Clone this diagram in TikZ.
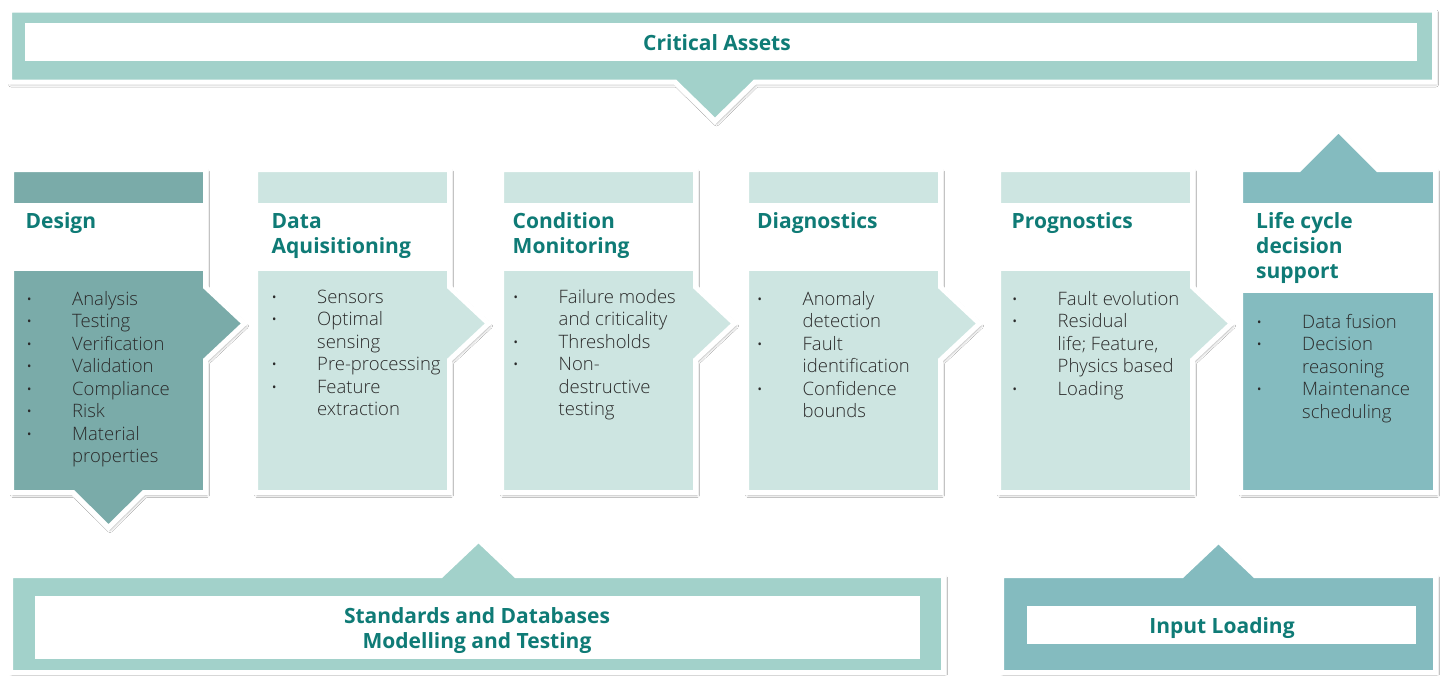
\documentclass[tikz,border=0pt]{standalone}
\usepackage{fontspec}
\setmainfont{Open Sans}
\newfontfamily\lightfont{Open Sans Light}
\usetikzlibrary{shadows.blur}

\definecolor{bannerteal}{HTML}{A2D1CA}
\definecolor{darkteal}{HTML}{7AABA9}
\definecolor{paleteal}{HTML}{CDE5E1}
\definecolor{midteal}{HTML}{84BBBF}
\definecolor{headteal}{HTML}{0F7B76}
\definecolor{bodygray}{HTML}{2A2A2A}

% bullet hanging 43pt to the left of the item text
\newcommand\bul{\llap{\makebox[0pt][c]{\raisebox{2pt}{\normalfont\fontsize{11.5}{11.5}\selectfont •}}\hspace{43pt}}}

\tikzset{
  panel/.style={draw=white, line width=5pt, line join=miter,
    blur shadow={shadow xshift=1.5pt, shadow yshift=-2.5pt,
                 shadow blur radius=2.5pt, shadow opacity=35}},
  headtext/.style={font=\bfseries\fontsize{21}{25}\selectfont, text=headteal, inner sep=0pt},
  bodytext/.style={font=\lightfont\fontsize{18.5}{22.5}\selectfont, text=bodygray, inner sep=0pt},
}

\begin{document}
\begin{tikzpicture}[x=1pt, y=-1pt]
\useasboundingbox (0,0) rectangle (1446,675);
\fill[white] (0,0) rectangle (1446,675);

% ---------- top banner ----------
\path[panel, fill=bannerteal] (9.5,10) -- (1434.5,10) -- (1434.5,82) -- (755,82)
  -- (715,121) -- (675,82) -- (9.5,82) -- cycle;
\fill[white] (25,23) rectangle (1417,61);
\node[headtext, anchor=base] (crit) at (717,50) {Critical Assets};

% ---------- Design ----------
\path[panel, fill=darkteal] (11.5,169.5) -- (205.5,169.5) -- (205.5,287) -- (244.5,323.5)
  -- (205.5,360) -- (205.5,492.5) -- (144,492.5) -- (108.5,527.5) -- (73,492.5)
  -- (11.5,492.5) -- cycle;
\fill[white] (11.5,203) rectangle (205.5,271);
\node[headtext, anchor=base west] (t1) at (25.5,228) {Design};
\node[bodytext, anchor=base west] (b1) at (72,305) {\vtop{
  \hbox{\bul Analysis}\hbox{\bul Testing}\hbox{\bul Verification}
  \hbox{\bul Validation}\hbox{\bul Compliance}\hbox{\bul Risk}
  \hbox{\bul Material}\hbox{properties}}};

% ---------- Data Aquisitioning ----------
\path[panel, fill=paleteal] (255.5,169.5) -- (449.5,169.5) -- (449.5,287) -- (488.5,323.5)
  -- (449.5,360) -- (449.5,492.5) -- (255.5,492.5) -- cycle;
\fill[white] (255.5,203) rectangle (449.5,271);
\node[headtext, anchor=base west] (t2) at (271.5,228) {\vtop{\hbox{Data}\hbox{Aquisitioning}}};
\node[bodytext, anchor=base west] (b2) at (317,303) {\vtop{
  \hbox{\bul Sensors}\hbox{\bul Optimal}\hbox{sensing}
  \hbox{\bul Pre-processing}\hbox{\bul Feature}\hbox{extraction}}};

% ---------- Condition Monitoring ----------
\path[panel, fill=paleteal] (501.5,169.5) -- (695.5,169.5) -- (695.5,287) -- (734.5,323.5)
  -- (695.5,360) -- (695.5,492.5) -- (501.5,492.5) -- cycle;
\fill[white] (501.5,203) rectangle (695.5,271);
\node[headtext, anchor=base west] (t3) at (512.5,228) {\vtop{\hbox{Condition}\hbox{Monitoring}}};
\node[bodytext, anchor=base west] (b3) at (558.5,303) {\vtop{
  \hbox{\bul Failure modes}\hbox{and criticality}\hbox{\bul Thresholds}
  \hbox{\bul Non-}\hbox{destructive}\hbox{testing}}};

% ---------- Diagnostics ----------
\path[panel, fill=paleteal] (746.5,169.5) -- (940.5,169.5) -- (940.5,287) -- (979.5,323.5)
  -- (940.5,360) -- (940.5,492.5) -- (746.5,492.5) -- cycle;
\fill[white] (746.5,203) rectangle (940.5,271);
\node[headtext, anchor=base west] (t4) at (757,228) {Diagnostics};
\node[bodytext, anchor=base west] (b4) at (802.5,305) {\vtop{
  \hbox{\bul Anomaly}\hbox{detection}\hbox{\bul Fault}
  \hbox{identification}\hbox{\bul Confidence}\hbox{bounds}}};

% ---------- Prognostics ----------
\path[panel, fill=paleteal] (998.5,169.5) -- (1192.5,169.5) -- (1192.5,287) -- (1231.5,323.5)
  -- (1192.5,360) -- (1192.5,492.5) -- (998.5,492.5) -- cycle;
\fill[white] (998.5,203) rectangle (1192.5,271);
\node[headtext, anchor=base west] (t5) at (1011.5,228) {Prognostics};
\node[bodytext, anchor=base west] (b5) at (1057.5,305) {\vtop{
  \hbox{\bul Fault evolution}\hbox{\bul Residual}\hbox{life; Feature,}
  \hbox{Physics based}\hbox{\bul Loading}}};

% ---------- Life cycle decision support ----------
\path[panel, fill=midteal] (1240.5,169.5) -- (1299,169.5) -- (1338.5,130) -- (1378,169.5)
  -- (1435.5,169.5) -- (1435.5,492.5) -- (1240.5,492.5) -- cycle;
\fill[white] (1240.5,203) rectangle (1435.5,293);
\node[headtext, anchor=base west] (t6) at (1256,228) {\vtop{\hbox{Life cycle}\hbox{decision}\hbox{support}}};
\node[bodytext, anchor=base west] (b6) at (1302,328) {\vtop{
  \hbox{\bul Data fusion}\hbox{\bul Decision}\hbox{reasoning}
  \hbox{\bul Maintenance}\hbox{scheduling}}};

% ---------- Standards and Databases ----------
\path[panel, fill=bannerteal] (10.5,575.5) -- (441,575.5) -- (478.5,540) -- (516,575.5)
  -- (943.5,575.5) -- (943.5,672.5) -- (10.5,672.5) -- cycle;
\fill[white] (35,596) rectangle (920,659);
\node[headtext, anchor=base] (std1) at (477,623) {Standards and Databases};
\node[headtext, anchor=base] (std2) at (477,648) {Modelling and Testing};

% ---------- Input Loading ----------
\path[panel, fill=midteal] (1001.5,575.5) -- (1182,575.5) -- (1218.5,541) -- (1255,575.5)
  -- (1435.5,575.5) -- (1435.5,672.5) -- (1001.5,672.5) -- cycle;
\fill[white] (1027,606) rectangle (1416,644);
\node[headtext, anchor=base] (inp) at (1222,633) {Input Loading};
\end{tikzpicture}
\end{document}
